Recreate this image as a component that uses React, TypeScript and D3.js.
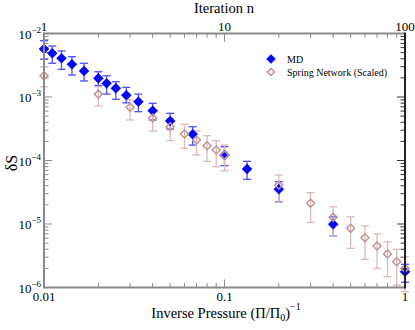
import React from "react";
import * as d3 from "d3";

// MD data: inverse pressure, value, error low/high
const mdX = [0.01, 1 / 90, 1 / 80, 1 / 70, 1 / 60, 1 / 50, 1 / 45, 1 / 40, 1 / 35, 1 / 30, 1 / 25, 1 / 20, 1 / 15, 1 / 10, 1 / 7.5, 1 / 5, 1 / 2.5, 1];
const mdY = [5.7e-3, 4.88e-3, 4.07e-3, 3.27e-3, 2.57e-3, 1.97e-3, 1.64e-3, 1.37e-3, 1.07e-3, 8.43e-4, 6.08e-4, 4.19e-4, 2.59e-4, 1.22e-4, 7.34e-5, 3.52e-5, 9.88e-6, 1.77e-6];
const mdLo = [3.93e-3, 3.4e-3, 2.73e-3, 2.22e-3, 1.79e-3, 1.51e-3, 1.11e-3, 9.2e-4, 8.1e-4, 5.87e-4, 4.35e-4, 3.13e-4, 1.75e-4, 8.3e-5, 5.06e-5, 2.24e-5, 6.47e-6, 1.21e-6];
const mdHi = [7.7e-3, 6.35e-3, 5.3e-3, 4.31e-3, 3.4e-3, 2.5e-3, 2.16e-3, 1.74e-3, 1.42e-3, 1.11e-3, 7.96e-4, 5.53e-4, 3.4e-4, 1.65e-4, 9.7e-5, 4.63e-5, 1.3e-5, 2.32e-6];

// Spring network data
const snX = [0.01, 0.02, 0.03, 0.04, 0.05, 0.06, 0.07, 0.08, 0.09, 0.1, 0.2, 0.3, 0.4, 0.5, 0.6, 0.7, 0.8, 0.9, 1];
const snY = [2.16e-3, 1.11e-3, 6.89e-4, 4.67e-4, 3.4e-4, 2.61e-4, 2.1e-4, 1.71e-4, 1.46e-4, 1.22e-4, 4.11e-5, 2.12e-5, 1.28e-5, 8.55e-6, 6.08e-6, 4.51e-6, 3.37e-6, 2.55e-6, 2.0e-6];
const snLo = [1.45e-3, 7.2e-4, 4.35e-4, 2.92e-4, 2.05e-4, 1.56e-4, 1.22e-4, 9.7e-5, 7.98e-5, 6.9e-5, 2.2e-5, 1.06e-5, 6.47e-6, 4.14e-6, 2.78e-6, 2.0e-6, 1.48e-6, 1.09e-6, 8.6e-7];
const snHi = [3.0e-3, 1.45e-3, 8.97e-4, 6.03e-4, 4.63e-4, 3.72e-4, 2.94e-4, 2.46e-4, 2.05e-4, 1.75e-4, 5.92e-5, 3.11e-5, 1.87e-5, 1.3e-5, 9.3e-6, 6.96e-6, 5.21e-6, 4.0e-6, 3.05e-6];

const xTickLabels = ["0.01", "0.1", "1"];
const topTickLabels = ["1", "10", "100"];
const yExponents = ["-2", "-3", "-4", "-5", "-6"];
const legendLabels = ["MD", "Spring Network (Scaled)"];

const L = 44, R = 405, T = 33.5, B = 287.5;
const FONT = '"Liberation Serif", "Times New Roman", "DejaVu Serif", serif';

export default function App() {
  const x = d3.scaleLog().domain([0.01, 1]).range([L, R]);
  const xTop = d3.scaleLog().domain([1, 100]).range([L, R]);
  const y = d3.scaleLog().domain([1e-6, 1e-2]).range([B, T]);

  const xt = x.ticks();
  const yt = y.ticks();
  const isMajor = (v: number) => Math.abs(Math.log10(v) - Math.round(Math.log10(v))) < 1e-6;

  const diamond = (cx: number, cy: number, r: number) =>
    `M${cx},${cy - r}L${cx + r},${cy}L${cx},${cy + r}L${cx - r},${cy}Z`;

  const axisGrey = "#8a8a8a";
  const blue = "#0000ff";
  const blueErr = "#4d4dff";
  const sn = "#c09494";
  const snErr = "#d9b9b9";

  return (
    <svg width={415} height={330} style={{ position: "absolute", left: 0, top: 0, fontFamily: FONT }}>
      <rect width={415} height={330} fill="#fff" />
      {/* ticks */}
      {xt.map((v, i) => {
        const len = isMajor(v) ? 8 : 4.5;
        const px = x(v);
        return (
          <g key={"xt" + i}>
            <line x1={px} x2={px} y1={B} y2={B - len} stroke={axisGrey} strokeWidth={1} />
            <line x1={px} x2={px} y1={T} y2={T + len} stroke={axisGrey} strokeWidth={1} />
          </g>
        );
      })}
      {yt.map((v, i) => {
        const len = isMajor(v) ? 8 : 4.5;
        const py = y(v);
        return (
          <g key={"yt" + i}>
            <line x1={L} x2={L + len} y1={py} y2={py} stroke={axisGrey} strokeWidth={1} />
            <line x1={R} x2={R - len} y1={py} y2={py} stroke="#333" strokeWidth={1} />
          </g>
        );
      })}
      {/* MD error bars */}
      {mdX.map((v, i) => {
        const px = x(v);
        return (
          <g key={"me" + i} stroke={blueErr} strokeWidth={1.3} fill="none">
            <line x1={px} x2={px} y1={y(mdLo[i])} y2={y(mdHi[i])} />
            <line x1={px - 4} x2={px + 4} y1={y(mdLo[i])} y2={y(mdLo[i])} />
            <line x1={px - 4} x2={px + 4} y1={y(mdHi[i])} y2={y(mdHi[i])} />
          </g>
        );
      })}
      {/* Spring error bars */}
      {snX.map((v, i) => {
        const px = x(v);
        return (
          <g key={"se" + i} stroke={snErr} strokeWidth={1.3} fill="none">
            <line x1={px} x2={px} y1={y(snLo[i])} y2={y(snHi[i])} />
            <line x1={px - 4} x2={px + 4} y1={y(snLo[i])} y2={y(snLo[i])} />
            <line x1={px - 4} x2={px + 4} y1={y(snHi[i])} y2={y(snHi[i])} />
          </g>
        );
      })}
      {mdX.map((v, i) => (
        <path key={"m" + i} d={diamond(x(v), y(mdY[i]), 5)} fill={blue} stroke={blue} strokeWidth={0.5} />
      ))}
      {snX.map((v, i) => (
        <path key={"s" + i} d={diamond(x(v), y(snY[i]), 4)} fill="none" stroke={sn} strokeWidth={1.5} />
      ))}
      {/* frame */}
      <line x1={L} x2={R} y1={B} y2={B} stroke={axisGrey} strokeWidth={2} />
      <line x1={L} x2={R} y1={T} y2={T} stroke={axisGrey} strokeWidth={2} />
      <line x1={L} x2={L} y1={T - 1} y2={B + 1} stroke={axisGrey} strokeWidth={2} />
      <line x1={R} x2={R} y1={T - 1} y2={B + 1} stroke="#222" strokeWidth={2} />
      {/* y tick labels */}
      {yExponents.map((e, i) => {
        const py = y(Math.pow(10, +e));
        return (
          <text key={"yl" + i} x={41} y={py + 5} textAnchor="end" fontSize={13} fill="#000" fontFamily={FONT}>
            10<tspan fontSize={9} dy={-6}>{e.replace("-", "\u2212")}</tspan>
          </text>
        );
      })}
      {xTickLabels.map((t, i) => (
        <text key={"xl" + i} x={x(+t)} y={301} textAnchor="middle" fontSize={13} fill="#000" fontFamily={FONT}>{t}</text>
      ))}
      {topTickLabels.map((t, i) => (
        <text key={"tl" + i} x={xTop(+t)} y={30.5} textAnchor="middle" fontSize={13} fill="#000" fontFamily={FONT}>{t}</text>
      ))}
      <text x={224} y={13} textAnchor="middle" fontSize={14.5} fill="#000" fontFamily={FONT}>Iteration n</text>
      <text x={226} y={318} textAnchor="middle" fontSize={14.5} fill="#000" fontFamily={FONT}>
        Inverse Pressure (Π/Π<tspan fontSize={10} dy={3}>0</tspan><tspan dy={-3}>)</tspan>
        <tspan fontSize={10} dy={-8}>{"\u22121"}</tspan>
      </text>
      <text transform={`translate(17,163) rotate(-90)`} textAnchor="middle" fontSize={16} fill="#000" fontFamily={FONT}>δS</text>
      {/* legend */}
      <path d={diamond(271, 59, 4.5)} fill={blue} stroke={blue} strokeWidth={0.5} />
      <text x={287} y={62.5} fontSize={10} fill="#000" fontFamily={FONT}>{legendLabels[0]}</text>
      <path d={diamond(271, 72, 3.5)} fill="none" stroke={sn} strokeWidth={1.5} />
      <text x={287} y={75.5} fontSize={10} fill="#000" fontFamily={FONT}>{legendLabels[1]}</text>
    </svg>
  );
}
